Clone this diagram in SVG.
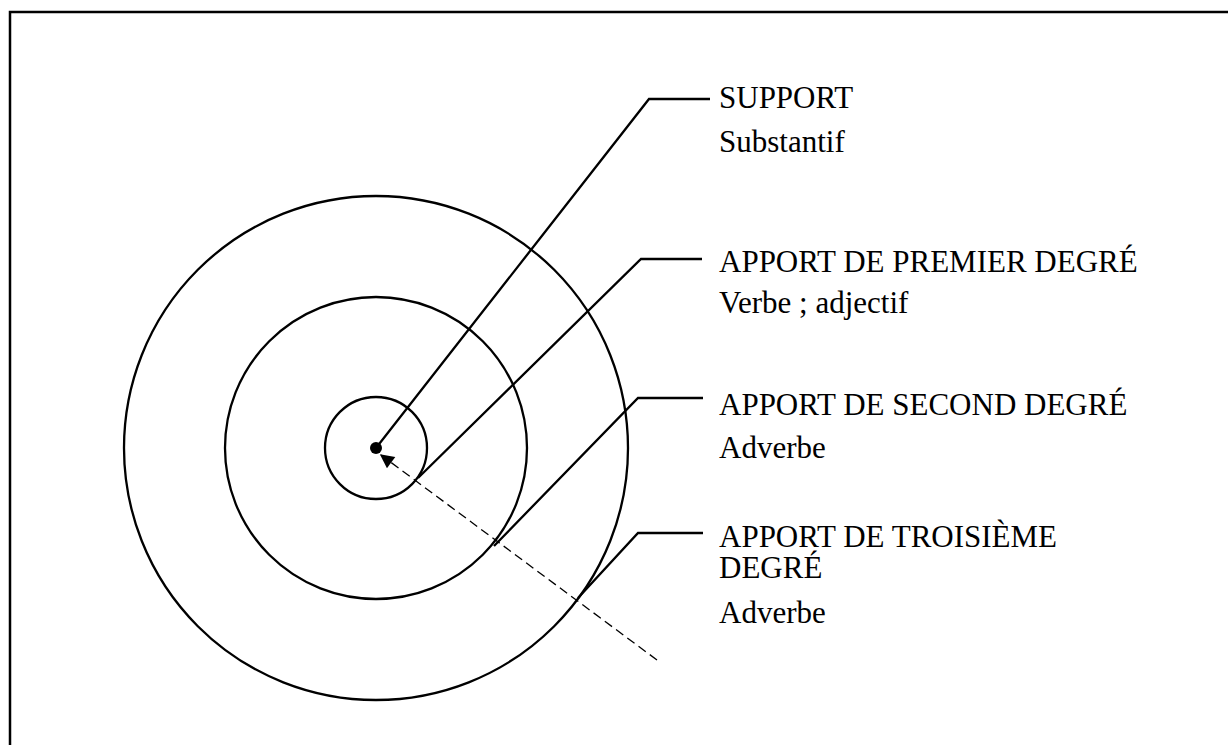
<svg xmlns="http://www.w3.org/2000/svg" width="1228" height="745" viewBox="0 0 1228 745">
<style>
.frame{fill:none;stroke:#000;stroke-width:2.5}
.ring{fill:none;stroke:#000;stroke-width:2.3}
.lead{fill:none;stroke:#000;stroke-width:2.3}
.dash{fill:none;stroke:#000;stroke-width:1.3;stroke-dasharray:9 5}
.t{font-family:"Liberation Serif","Times New Roman",serif;font-size:31px;fill:#000}
</style>
<defs>
<marker id="ah" viewBox="0 0 10 10" refX="9" refY="5" markerWidth="16" markerHeight="14" markerUnits="userSpaceOnUse" orient="auto">
<path d="M0,0 L10,5 L0,10 z" fill="#000"/>
</marker>
</defs>
<rect width="1228" height="745" fill="#fff"/>
<path class="frame" d="M10,760 L10,12 L1240,12"/>
<g id="rings">
<circle class="ring" cx="376" cy="448" r="252"/>
<circle class="ring" cx="376" cy="448" r="151"/>
<circle class="ring" cx="376" cy="448" r="51"/>
<circle cx="376" cy="448" r="6" fill="#000"/>
</g>
<g id="connectors">
<path class="lead" d="M376,448 L649,99 L710,99"/>
<path class="lead" d="M418,478 L641,259 L702,259"/>
<path class="lead" d="M494,546 L638,398 L703,398"/>
<path class="lead" d="M578,598 L638,533 L703,533"/>
<path class="dash" d="M657,660 L381,455" marker-end="url(#ah)"/>
</g>
<g id="support">
<text class="t" x="719" y="108">SUPPORT</text>
<text class="t" x="719" y="152">Substantif</text>
</g>
<g id="apport1">
<text class="t" x="719" y="272">APPORT DE PREMIER DEGRÉ</text>
<text class="t" x="719" y="313">Verbe ; adjectif</text>
</g>
<g id="apport2">
<text class="t" x="719" y="415">APPORT DE SECOND DEGRÉ</text>
<text class="t" x="719" y="458">Adverbe</text>
</g>
<g id="apport3">
<text class="t" x="719" y="547">APPORT DE TROISIÈME</text>
<text class="t" x="719" y="578">DEGRÉ</text>
<text class="t" x="719" y="623">Adverbe</text>
</g>
</svg>
